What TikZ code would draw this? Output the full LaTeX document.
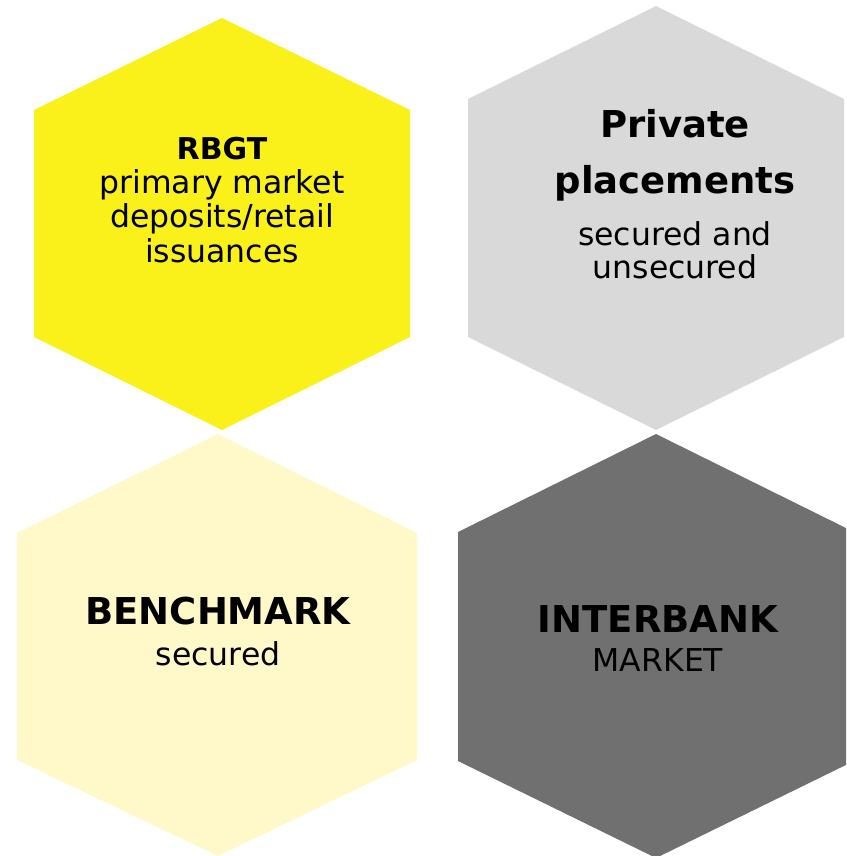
\documentclass[tikz,border=0pt]{standalone}
\usepackage{fontspec}
\setmainfont{DejaVu Sans}
\definecolor{hexyellow}{HTML}{FAF01A}
\definecolor{hexpale}{HTML}{FFF8C8}
\definecolor{hexlight}{HTML}{D9D9D9}
\definecolor{hexdark}{HTML}{707070}
\begin{document}
\begin{tikzpicture}[x=1pt,y=-1pt,
  hexfill/.style={fill=#1,draw=none},
  title/.style={anchor=base,inner sep=0pt,font=\fontsize{37}{40}\selectfont\bfseries},
  smalltitle/.style={anchor=base,inner sep=0pt,font=\fontsize{30}{34}\selectfont\bfseries},
  body/.style={anchor=base,inner sep=0pt,font=\fontsize{31.5}{34}\selectfont}]
\useasboundingbox (0,0) rectangle (846,856);
\clip (0,0) rectangle (846,856);

% four hexagonal tiles
\fill[hexfill=hexyellow] (222,18) -- (410,110) -- (410,337) -- (222,430) -- (34,337) -- (34,110) -- cycle;
\fill[hexfill=hexlight] (656,6) -- (844,99) -- (844,337) -- (656,430) -- (468,337) -- (468,99) -- cycle;
\fill[hexfill=hexpale] (218,434) -- (417,533) -- (417,760) -- (218,856) -- (17,760) -- (17,533) -- cycle;
\fill[hexfill=hexdark] (656,434) -- (854,532) -- (854,761) -- (656,858) -- (458,761) -- (458,532) -- cycle;

% yellow tile
\node[smalltitle] (rbgt) at (222,159) {RBGT};
\node[body] (rbgt1) at (222,193) {primary market};
\node[body] (rbgt2) at (222,227) {deposits/retail};
\node[body] (rbgt3) at (222,262) {issuances};

% light grey tile
\node[title] (priv1) at (675,138) {Private};
\node[title] (priv2) at (675,193) {placements};
\node[body] (priv3) at (675,245) {secured and};
\node[body] (priv4) at (675,278) {unsecured};

% pale yellow tile
\node[title] (bench) at (218,624) {BENCHMARK};
\node[body] (bench1) at (218,665) {secured};

% dark grey tile
\node[title] (inter) at (658,632) {INTERBANK};
\node[body] (inter1) at (658,671) {MARKET};
\end{tikzpicture}
\end{document}
